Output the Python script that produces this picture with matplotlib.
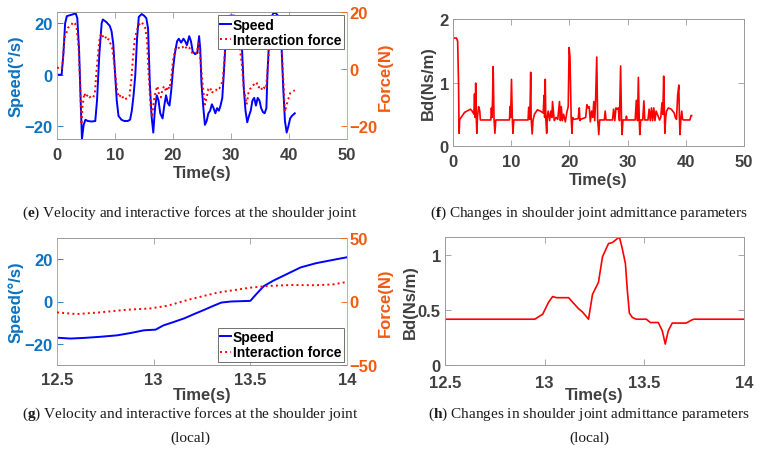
import matplotlib
matplotlib.use("Agg")
import matplotlib.pyplot as plt

# ---------------- data ----------------
# (e) speed and interaction force over the whole run
t_speed = [0, 0.8, 1.1, 1.4, 1.7, 2.3, 2.9, 3.2, 3.5, 3.8, 4.05, 4.3, 4.6, 4.9, 5.3, 6.0, 6.6,
           6.9, 7.3, 7.7, 7.9, 8.5, 9.1, 9.4, 9.7, 10.0, 10.3, 10.6, 11.1, 11.6, 12.2, 12.6,
           12.9, 13.2, 13.5, 13.8, 14.1, 14.6, 15.0, 15.4, 15.7, 16.0, 16.3, 16.6, 16.9, 17.2,
           17.5, 17.8, 18.2, 18.5, 18.8, 19.1, 19.4, 19.7, 20.0, 20.3, 20.7, 21.0, 21.4, 21.8,
           22.1, 22.4, 22.8, 23.1, 23.4, 23.8, 24.2, 24.5, 24.7, 24.9, 25.2, 25.5, 25.8, 26.1,
           26.4, 26.7, 27.0, 27.3, 27.6, 27.9, 28.2, 28.5, 28.8, 29.1, 29.4, 29.8, 30.5, 31.2,
           31.6, 31.9, 32.2, 32.5, 32.8, 33.1, 33.4, 33.7, 34.0, 34.3, 34.6, 34.9, 35.2, 35.5,
           35.8, 36.1, 36.3, 36.6, 36.9, 37.3, 37.7, 38.1, 38.4, 38.7, 39.0, 39.3, 39.6, 39.9,
           40.2, 40.5, 41.0]
speed = [0, 0, 8, 20, 22.8, 23.2, 23.6, 24, 22, 10, -8, -25, -19.5, -17.5, -18, -18.2, -18,
         -10, 8, 20, 21.5, 20.5, 19, 17, 12, 1, -10, -16, -17.5, -18, -18, -17.5,
         -14, -8, 0, 14, 22.5, 23.6, 23, 22, 18, -3, -16, -22.5, -13, -8,
         -10, -15, -17, -12, -8, -11, -12, -6, 2, 8, 13, 14, 12.5, 14,
         13, 11.5, 15, 13, 9, 8, 8.5, 15, 10, -3, -12, -19.5, -18, -15,
         -14, -11.5, -13, -15, -13, -14, -12, -9, 2, 14, 22, 23, 23, 22,
         18, 10, -5, -14, -18.5, -16, -14, -10, -9, -12, -9, -10, -13, -14.5,
         -15, -13, 1, 15, 22, 24, 24, 23, 20, 12, -5, -18, -22.5, -20,
         -17, -16, -15]

t_force = [0, 0.8, 1.0, 1.3, 1.6, 1.9, 2.2, 2.5, 2.8, 3.1, 3.4, 3.7, 4.0, 4.2, 4.4, 4.7, 5.0,
           5.3, 5.6, 5.9, 6.2, 6.5, 6.8, 7.1, 7.4, 7.7, 8.0, 8.3, 8.6, 8.9, 9.2, 9.5, 9.8,
           10.1, 10.4, 10.7, 11.0, 11.3, 11.6, 11.9, 12.2, 12.5, 12.8, 13.1, 13.4, 13.7, 14.0,
           14.3, 14.6, 14.9, 15.2, 15.5, 15.8, 16.1, 16.4, 16.7, 17.0, 17.3, 17.6, 17.9, 18.2,
           18.5, 18.8, 19.1, 19.4, 19.7, 20.0, 20.4, 20.8, 21.2, 21.6, 22.0, 22.4, 22.8, 23.1,
           23.4, 23.8, 24.1, 24.4, 24.7, 25.0, 25.3, 25.5, 25.8, 26.1, 26.4, 26.7, 27.0, 27.4,
           27.7, 28.0, 28.3, 28.6, 28.9, 29.2, 29.6, 30.5, 31.3, 31.6, 31.9, 32.2, 32.5, 32.7,
           33.0, 33.3, 33.6, 33.9, 34.2, 34.5, 34.8, 35.1, 35.4, 35.7, 36.0, 36.2, 36.5, 36.8,
           37.2, 38.0, 38.5, 38.8, 39.1, 39.3, 39.6, 39.9, 40.2, 40.5, 41.0]
force = [0.5, 0, 3, 11, 12.5, 14.5, 15, 15.5, 16.5, 16, 14, 8, -5, -19.5, -13, -8.5, -10,
         -9, -10, -9.5, -10, -9, -1, 6, 11.5, 12.5, 11, 11.5, 10, 10.5, 9, 7.5, 3,
         -3, -8, -10, -9, -10, -9.5, -10.5, -10, -9.5, -4, 4, 10.5, 13, 15,
         16, 16.5, 15.5, 14.5, 10.5, -2, -12, -17, -11, -8, -6, -9, -10, -7,
         -6, -8, -6, -7, -3, 3, 7, 7.8, 7, 7.5, 8.3, 7, 7.5, 6,
         5.5, 6, 5.5, 9, 4, -3, -9, -12.5, -10, -7, -6.5, -8.5, -7.5, -7.5,
         -6.5, -6.8, -5.5, -4, 5, 14, 16, 16, 12, 6, 1, -7, -10, -12.5,
         -8.5, -7, -6.5, -5.5, -6, -5, -6.5, -6, -7.5, -6.5, -7, -3, 5, 13,
         16, 16, 10, 5, -7, -15, -12.5, -10.5, -8.5, -8, -7.5]

# (f) admittance parameter Bd over the whole run
t_bd = [0, 0.6, 0.8, 0.95, 1.05, 1.15, 1.4, 2.0, 2.6, 3.0, 3.3, 3.6, 3.7, 3.8, 3.9, 4.0, 4.1,
        4.2, 4.4, 4.6, 4.7, 6.5, 6.6, 6.7, 6.8, 6.9, 7.05, 7.2, 7.35, 9.7, 9.8, 9.9, 10.05,
        10.2, 10.3, 10.45, 12.9, 13.0, 13.2, 13.35, 13.42, 13.6, 13.75, 14.0, 14.5, 15.0,
        15.5, 15.65, 15.75, 15.85, 15.95, 16.1, 16.2, 16.35, 16.6, 16.8, 17.0, 17.1, 17.25,
        17.4, 17.7, 18.0, 18.3, 18.45, 18.6, 18.8, 19.0, 19.3, 19.6, 19.8, 19.95, 20.1, 20.3,
        20.45, 20.55, 20.7, 21.5, 21.7, 21.8, 21.95, 22.8, 23.0, 23.2, 23.4, 23.6, 23.8,
        24.0, 24.2, 24.35, 24.5, 24.7, 24.85, 25.05, 25.2, 26.0, 26.15, 26.3, 27.4, 27.6,
        27.8, 28.0, 28.2, 28.4, 28.6, 28.8, 28.95, 29.05, 29.2, 29.7, 29.8, 29.9, 31.3, 31.5,
        31.7, 31.85, 32.0, 32.1, 32.25, 32.6, 32.8, 32.95, 33.5, 33.7, 33.9, 34.1, 34.3,
        34.5, 34.7, 34.9, 35.5, 35.7, 35.9, 36.05, 36.2, 36.4, 36.55, 36.7, 37.0, 37.5,
        38.0, 38.2, 38.4, 38.6, 38.8, 38.9, 39.0, 39.15, 39.3, 39.45, 39.6, 40.7, 40.9, 41.0]
bd = [1.70, 1.70, 1.65, 1.0, 0.2, 0.42, 0.45, 0.53, 0.56, 0.58, 0.55, 0.5, 0.82, 0.45, 0.99,
      0.45, 0.2, 0.45, 0.62, 0.55, 0.41, 0.41, 0.6, 0.45, 0.75, 1.25, 0.42, 0.2, 0.41, 0.41,
      0.62, 0.45, 1.05, 0.42, 0.2, 0.41, 0.41, 0.61, 0.42, 1.16, 0.45, 0.19, 0.41, 0.5, 0.57,
      0.55, 0.52, 0.8, 0.45, 1.05, 0.42, 0.2, 0.45, 0.55, 0.4, 0.55, 0.45, 0.7, 0.55, 0.4,
      0.45, 0.42, 0.7, 0.4, 0.62, 0.4, 0.5, 0.38, 0.55, 0.62, 1.55, 1.4, 0.45, 0.2, 0.45,
      0.42, 0.43, 0.6, 0.4, 0.42, 0.45, 0.65, 0.6, 0.62, 0.38, 0.55, 0.45, 0.7, 0.4, 0.72,
      1.4, 0.42, 0.18, 0.41, 0.41, 0.55, 0.41, 0.41, 0.58, 0.4, 0.6, 0.58, 0.6, 0.4, 1.26,
      0.42, 0.18, 0.41, 0.41, 0.47, 0.41, 0.41, 0.72, 0.4, 1.08, 0.42, 0.18, 0.41, 0.41,
      0.71, 0.41, 0.41, 0.58, 0.4, 0.6, 0.4, 0.6, 0.4, 0.55, 0.41, 0.45, 0.68, 0.5, 1.1,
      0.2, 0.45, 0.55, 0.6, 0.58, 0.52, 0.45, 0.42, 0.8, 0.96, 0.45, 0.18, 0.42, 0.55, 0.42,
      0.41, 0.41, 0.48, 0.48]

# (g) local speed / force, 12.5 s - 14 s
t_speed_loc = [12.5, 12.57, 12.64, 12.72, 12.81, 12.88, 12.95, 13.01, 13.05, 13.10, 13.16,
               13.21, 13.26, 13.31, 13.35, 13.40, 13.5, 13.53, 13.57, 13.62, 13.69, 13.76,
               13.84, 13.93, 14.0]
speed_loc = [-17.1, -17.5, -17.2, -16.7, -16.0, -14.9, -13.6, -13.3, -11.3, -9.8, -7.9,
             -5.9, -4.0, -2.0, -0.5, 0.0, 0.3, 3.4, 7.3, 9.9, 13.0, 16.1, 18.1, 19.7, 20.9]
t_force_loc = [12.5, 12.6, 12.72, 12.86, 12.98, 13.07, 13.19, 13.33, 13.5, 13.59, 13.71,
               13.84, 13.93, 14.0]
force_loc = [-8.6, -9.9, -8.6, -6.5, -5.5, -3.4, 1.8, 7.0, 10.9, 12.2, 13.0, 12.8, 13.5, 15.4]

# (h) local Bd, 12.5 s - 14 s
t_bd_loc = [12.5, 12.95, 12.99, 13.02, 13.04, 13.06, 13.12, 13.14, 13.17, 13.19, 13.22,
            13.24, 13.27, 13.29, 13.32, 13.34, 13.375, 13.39, 13.405, 13.415, 13.425, 13.44,
            13.46, 13.51, 13.53, 13.57, 13.59, 13.605, 13.62, 13.64, 13.71, 13.74, 13.75, 14.0]
bd_loc = [0.415, 0.415, 0.46, 0.57, 0.62, 0.61, 0.61, 0.57, 0.51, 0.48, 0.415,
          0.64, 0.75, 0.98, 1.10, 1.11, 1.16, 1.05, 0.92, 0.67, 0.47, 0.43,
          0.415, 0.415, 0.385, 0.385, 0.31, 0.19, 0.31, 0.38, 0.38, 0.41, 0.415, 0.415]

xticks_full = [0, 10, 20, 30, 40, 50]
xticks_loc = [12.5, 13, 13.5, 14]
xticklabels_loc = ["12.5", "13", "13.5", "14"]

captions = [r"($\mathbf{e}$) Velocity and interactive forces at the shoulder joint",
            r"($\mathbf{f}$) Changes in shoulder joint admittance parameters",
            r"($\mathbf{g}$) Velocity and interactive forces at the shoulder joint",
            r"($\mathbf{h}$) Changes in shoulder joint admittance parameters"]

# ---------------- style ----------------
plt.rcParams['font.family'] = ['Liberation Sans', 'DejaVu Sans']
plt.rcParams['font.weight'] = 'bold'
plt.rcParams['mathtext.fontset'] = 'custom'
plt.rcParams['mathtext.rm'] = 'Liberation Serif'
plt.rcParams['mathtext.bf'] = 'Liberation Serif:bold'

TXT = '#404040'
SPINE = '#9a9a9a'
BLUE_AX = '#0A72C0'
ORANGE_AX = '#F05A12'
TICK_FS = 12
LAB_FS = 12

W, H = 776, 460
fig = plt.figure(figsize=(W / 100, H / 100), dpi=100)


def box(l, r, t, b):
    return [l / W, 1 - b / H, (r - l) / W, (b - t) / H]


def style_ax(ax, xpad, right_ticks=True):
    for s in ax.spines.values():
        s.set_color(SPINE)
        s.set_linewidth(0.7)
    ax.tick_params(direction='in', length=4, width=0.6, color=SPINE,
                   labelsize=TICK_FS, labelcolor=TXT, top=True, right=right_ticks, pad=3)
    ax.tick_params(axis='x', pad=xpad)
    for lab in ax.get_xticklabels() + ax.get_yticklabels():
        lab.set_fontweight('bold')


def dual(ax, ts, sp, tf, fo, xlim, xticks, xtl, yl_left, yt_left, yl_right, yt_right,
         leg_loc, xpad, xlpad):
    l1, = ax.plot(ts, sp, color='#0000FF', lw=1.4, label='Speed', zorder=2)
    ax.set_xlim(*xlim)
    ax.set_ylim(*yl_left)
    ax.set_xticks(xticks)
    ax.set_xticklabels(xtl)
    ax.set_yticks(yt_left)
    style_ax(ax, xpad, right_ticks=False)
    ax.spines['left'].set_color('#7fb5dd')
    ax.tick_params(axis='y', colors=BLUE_AX, labelcolor=BLUE_AX)
    ax.set_ylabel('Speed(°/s)', color=BLUE_AX, fontsize=LAB_FS, fontweight='bold', labelpad=1)
    ax.set_xlabel('Time(s)', color=TXT, fontsize=LAB_FS, fontweight='bold', labelpad=xlpad)
    ax2 = ax.twinx()
    l2, = ax2.plot(tf, fo, color='#FF0000', lw=1.4, ls=':', label='Interaction force')
    ax2.set_ylim(*yl_right)
    ax2.set_yticks(yt_right)
    for s in ax2.spines.values():
        s.set_visible(False)
    ax2.spines['right'].set_visible(True)
    ax2.spines['right'].set_color('#f7a47c')
    ax2.spines['right'].set_linewidth(0.7)
    ax2.tick_params(axis='y', direction='in', length=4, width=0.6, colors=ORANGE_AX,
                    labelcolor=ORANGE_AX, labelsize=TICK_FS, pad=2)
    for lab in ax2.get_yticklabels():
        lab.set_fontweight('bold')
    ax2.set_ylabel('Force(N)', color=ORANGE_AX, fontsize=LAB_FS, fontweight='bold', labelpad=0)
    leg = ax2.legend(handles=[l1, l2], loc=leg_loc, fontsize=10, frameon=True,
                     fancybox=False, edgecolor='#707070', framealpha=1,
                     handlelength=0.8, handletextpad=0.15, borderpad=0.15,
                     labelspacing=0.12, borderaxespad=0.25)
    leg.get_frame().set_linewidth(0.7)
    for tx in leg.get_texts():
        tx.set_fontweight('bold')
        tx.set_color('black')
    return ax2


# (e)
ax_e = fig.add_axes(box(57, 347, 13, 140))
dual(ax_e, t_speed, speed, t_force, force, (0, 50), xticks_full,
     [str(v) for v in xticks_full], (-25, 24.4), [-20, 0, 20], (-24.6, 19.7), [-20, 0, 20],
     'upper right', 6, 2)

# (f)
ax_f = fig.add_axes(box(453, 744, 20, 147))
ax_f.plot(t_bd, bd, color='#FF0000', lw=1.2)
ax_f.set_xlim(0, 50)
ax_f.set_ylim(0, 2)
ax_f.set_xticks(xticks_full)
ax_f.set_yticks([0, 1, 2])
style_ax(ax_f, 6)
ax_f.set_ylabel('Bd(Ns/m)', color=TXT, fontsize=LAB_FS, fontweight='bold', labelpad=3)
ax_f.set_xlabel('Time(s)', color=TXT, fontsize=LAB_FS, fontweight='bold', labelpad=2)

# (g)
ax_g = fig.add_axes(box(57, 347, 239, 366))
dual(ax_g, t_speed_loc, speed_loc, t_force_loc, force_loc, (12.5, 14), xticks_loc,
     xticklabels_loc, (-30, 30), [-20, 0, 20], (-50, 50), [-50, 0, 50], 'lower right', 5, 0)

# (h)
ax_h = fig.add_axes(box(445, 744, 238, 366))
ax_h.plot(t_bd_loc, bd_loc, color='#FF0000', lw=1.2)
ax_h.set_xlim(12.5, 14)
ax_h.set_ylim(0, max(bd_loc))
ax_h.set_xticks(xticks_loc)
ax_h.set_xticklabels(xticklabels_loc)
ax_h.set_yticks([0, 0.5, 1])
ax_h.set_yticklabels(['0', '0.5', '1'])
style_ax(ax_h, 7)
ax_h.set_ylabel('Bd(Ns/m)', color=TXT, fontsize=LAB_FS, fontweight='bold', labelpad=0)
ax_h.set_xlabel('Time(s)', color=TXT, fontsize=LAB_FS, fontweight='bold', labelpad=-2)

# captions
cap_kw = dict(ha='center', va='center', fontsize=11, family='Liberation Serif',
              fontweight='normal', color='#1a1a1a')
fig.text(190 / W, 1 - 213 / H, captions[0], **cap_kw)
fig.text(589 / W, 1 - 213 / H, captions[1], **cap_kw)
fig.text(190 / W, 1 - 414 / H, captions[2], **cap_kw)
fig.text(190 / W, 1 - 438 / H, "(local)", **cap_kw)
fig.text(589 / W, 1 - 414 / H, captions[3], **cap_kw)
fig.text(589 / W, 1 - 438 / H, "(local)", **cap_kw)

fig.savefig('out.png', dpi=100)
